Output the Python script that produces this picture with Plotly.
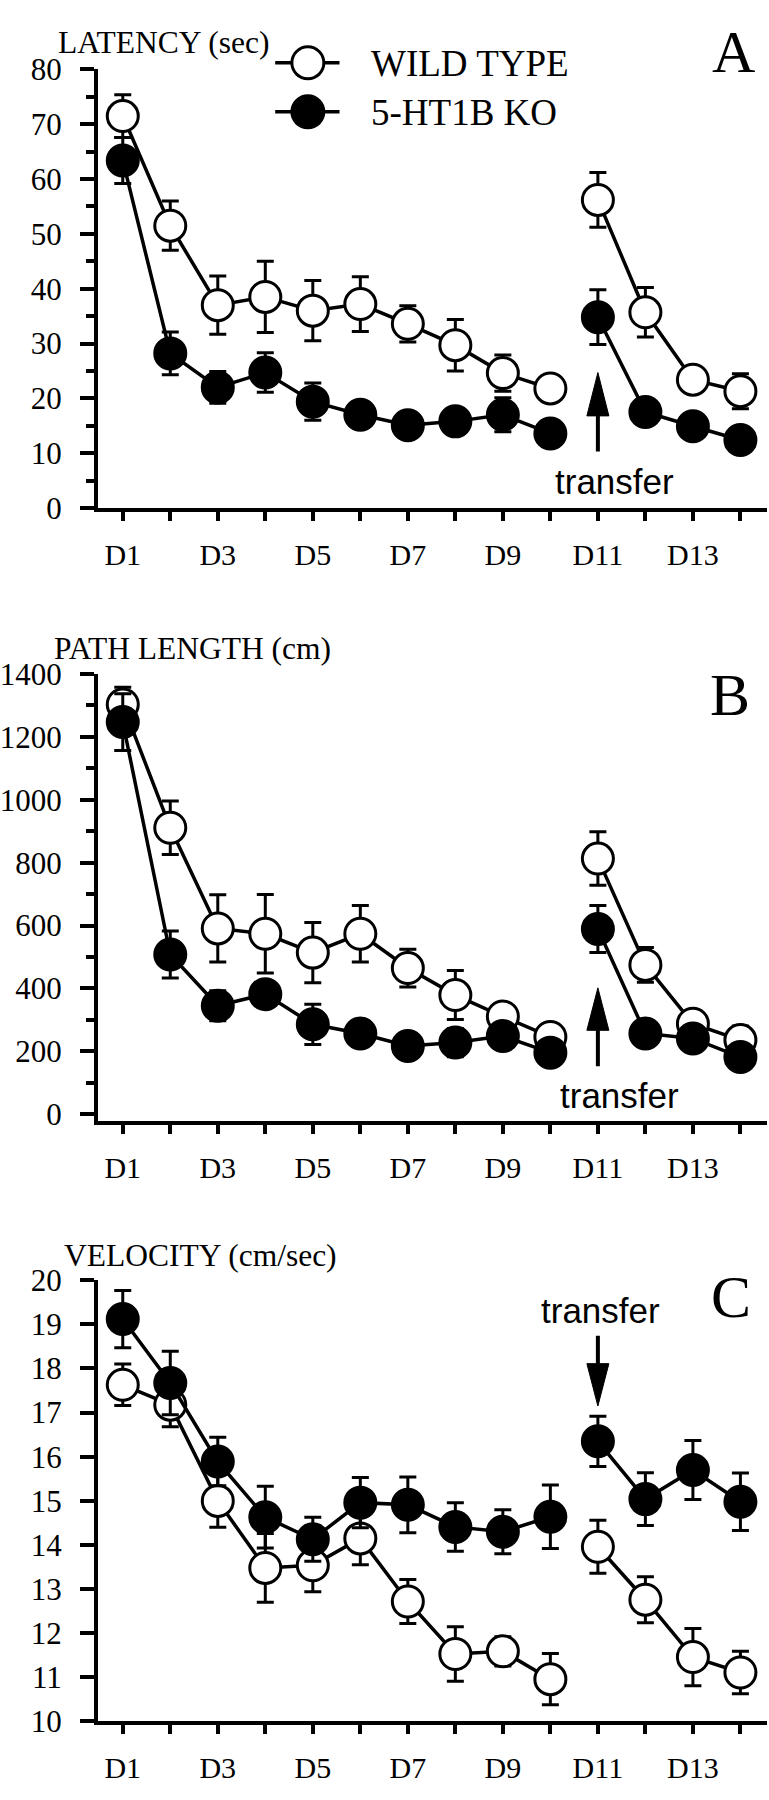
import plotly.graph_objects as go

# ---------------- data ----------------
days = list(range(1, 15))
day_ticktext = ["D1", "", "D3", "", "D5", "", "D7", "", "D9", "", "D11", "", "D13", ""]

lat_wt = [71.5, 51.5, 37.0, 38.5, 36.0, 37.2, 33.6, 29.7, 24.6, 21.8, 56.2, 35.7, 23.4, 21.3]
lat_wt_se = [3.9, 4.5, 5.3, 6.5, 5.5, 5.0, 3.3, 4.7, 3.3, 1.5, 5.0, 4.5, 1.5, 3.2]
lat_ko = [63.4, 28.2, 22.0, 24.7, 19.4, 17.0, 15.1, 15.8, 17.0, 13.6, 34.8, 17.5, 14.9, 12.4]
lat_ko_se = [4.2, 3.9, 2.9, 3.6, 3.4, 1.0, 1.0, 1.0, 3.1, 1.0, 5.0, 1.0, 1.0, 1.0]

path_wt = [1303, 911, 591, 574, 514, 574, 465, 379, 311, 246, 813, 475, 288, 236]
path_wt_se = [55, 85, 107, 125, 96, 90, 60, 78, 25, 25, 85, 55, 20, 45]
path_ko = [1247, 508, 345, 382, 286, 257, 217, 228, 249, 196, 589, 257, 241, 182]
path_ko_se = [90, 75, 48, 40, 64, 20, 20, 45, 20, 15, 75, 15, 15, 15]

vel_wt = [17.63, 17.18, 15.0, 13.48, 13.54, 14.15, 12.72, 11.53, 11.59, 10.96, 13.96, 12.76, 11.46, 11.11]
vel_wt_se = [0.47, 0.5, 0.6, 0.78, 0.6, 0.6, 0.5, 0.62, 0.33, 0.58, 0.6, 0.52, 0.65, 0.48]
vel_ko = [19.12, 17.67, 15.89, 14.63, 14.13, 14.96, 14.91, 14.41, 14.30, 14.64, 16.35, 15.04, 15.70, 14.98]
vel_ko_se = [0.65, 0.72, 0.55, 0.7, 0.5, 0.57, 0.63, 0.55, 0.5, 0.72, 0.57, 0.6, 0.67, 0.65]

series_names = ["WILD TYPE", "5-HT1B KO"]
panel_titles = ["LATENCY (sec)", "PATH LENGTH (cm)", "VELOCITY (cm/sec)"]
panel_letters = ["A", "B", "C"]
transfer_day = 11
break_after_day = 10

# ---------------- layout constants ----------------
W, H = 769, 1800
SERIF = "Liberation Serif, Times New Roman, serif"
SANS = "Liberation Sans, Arial, sans-serif"

def fy(px):
    return 1 - px / H

def fx(px):
    return px / W

x_domain = [fx(91), fx(767)]
panels = [
    dict(top=53.5, bot=500.7, rng=[0, 80], dtick=10, minor=5, data=(lat_wt, lat_wt_se, lat_ko, lat_ko_se)),
    dict(top=670.0, bot=1126.1, rng=[-22, 1400], dtick=200, minor=100, data=(path_wt, path_wt_se, path_ko, path_ko_se)),
    dict(top=1288.3, bot=1738.3, rng=[10, 20], dtick=1, minor=None, data=(vel_wt, vel_wt_se, vel_ko, vel_ko_se)),
]

def split(vals):
    # insert a gap between the training block and the transfer block
    xs, ys = [], []
    for d, v in zip(days, vals):
        xs.append(d)
        ys.append(v)
        if d == break_after_day:
            xs.append(None)
            ys.append(None)
    return xs, ys

fig = go.Figure()
MS = 31
for i, p in enumerate(panels):
    xa = "x" if i == 0 else f"x{i+1}"
    ya = "y" if i == 0 else f"y{i+1}"
    wt, wt_se, ko, ko_se = p["data"]
    for name, vals, se, fill in [(series_names[0], wt, wt_se, "white"), (series_names[1], ko, ko_se, "black")]:
        xs, ys = split(vals)
        _, es = split(se)
        fig.add_trace(go.Scatter(
            x=xs, y=ys, xaxis=xa, yaxis=ya, mode="lines+markers", name=name,
            showlegend=False, connectgaps=False, cliponaxis=False,
            line=dict(color="black", width=3.5),
            marker=dict(size=MS, color=fill, line=dict(color="black", width=3)),
            error_y=dict(type="data", array=es, visible=True, color="black", thickness=3, width=8.5),
        ))

layout = dict(
    width=W, height=H, margin=dict(l=0, r=0, t=0, b=0),
    paper_bgcolor="white", plot_bgcolor="white", showlegend=False,
    font=dict(family=SERIF, size=30, color="black"),
)
for i, p in enumerate(panels):
    xk = "xaxis" if i == 0 else f"xaxis{i+1}"
    yk = "yaxis" if i == 0 else f"yaxis{i+1}"
    anchor_y = "y" if i == 0 else f"y{i+1}"
    anchor_x = "x" if i == 0 else f"x{i+1}"
    layout[xk] = dict(
        domain=x_domain, anchor=anchor_y, range=[0.48, 14.56],
        tickmode="array", tickvals=days, ticktext=day_ticktext,
        ticks="outside", ticklen=9, tickwidth=4, tickcolor="black",
        showline=True, linecolor="black", linewidth=4, showgrid=False, zeroline=False,
        tickfont=dict(family=SERIF, size=30, color="black"), ticklabelstandoff=8,
    )
    yax = dict(
        domain=[fy(p["bot"]), fy(p["top"])], anchor=anchor_x, range=p["rng"],
        tick0=0 if i < 2 else 10, dtick=p["dtick"],
        ticks="outside", ticklen=14, tickwidth=4, tickcolor="black",
        showline=True, linecolor="black", linewidth=4, showgrid=False, zeroline=False,
        tickfont=dict(family=SERIF, size=31, color="black"), ticklabelstandoff=12,
    )
    if p["minor"]:
        yax["minor"] = dict(dtick=p["minor"], ticks="outside", ticklen=8, tickwidth=4,
                            tickcolor="black", showgrid=False)
    layout[yk] = yax

annotations = []
shapes = []
# panel titles
title_pos = [(48, 26), (44, 644), (55, 1263)]
for t, (x, y) in zip(panel_titles, title_pos):
    annotations.append(dict(text=t, xref="paper", yref="paper", x=fx(x), y=fy(y),
                            xanchor="left", yanchor="middle", showarrow=False,
                            font=dict(family=SERIF, size=31.5, color="black")))
# panel letters
letter_pos = [(733, 36), (730, 691), (731, 1305)]
for t, (x, y) in zip(panel_letters, letter_pos):
    annotations.append(dict(text=t, xref="paper", yref="paper", x=fx(x), y=fy(y),
                            xanchor="center", yanchor="middle", showarrow=False,
                            font=dict(family=SERIF, size=60, color="black")))
# legend (drawn manually)
leg_rows = [(46.7, "white"), (96.7, "black")]
for (yy, fill), name in zip(leg_rows, series_names):
    shapes.append(dict(type="line", xref="paper", yref="paper", x0=fx(270), x1=fx(335),
                       y0=fy(yy), y1=fy(yy), line=dict(color="black", width=3.5)))
    shapes.append(dict(type="circle", xref="paper", yref="paper", xsizemode="pixel", ysizemode="pixel",
                       xanchor=fx(303), yanchor=fy(yy), x0=-16, x1=16, y0=-16, y1=16,
                       fillcolor=fill, line=dict(color="black", width=3)))
    annotations.append(dict(text=name, xref="paper", yref="paper", x=fx(365), y=fy(yy + 1),
                            xanchor="left", yanchor="middle", showarrow=False,
                            font=dict(family=SERIF, size=37, color="black")))

# transfer labels and arrows
transfer_text_pos = [(613, 474), (618, 1100), (599, 1319)]
for (x, y) in transfer_text_pos:
    annotations.append(dict(text="transfer", xref="paper", yref="paper", x=fx(x), y=fy(y),
                            xanchor="center", yanchor="middle", showarrow=False,
                            font=dict(family=SANS, size=35, color="black")))
# arrows: (tip, head base, tail) in data units of each panel
arrow_specs = [(24.7, 16.8, 10.3), (402, 267, 153), (17.15, 18.11, 18.74)]
for i, (tip, base, tail) in enumerate(arrow_specs):
    xr = "x" if i == 0 else f"x{i+1}"
    yr = "y" if i == 0 else f"y{i+1}"
    shapes.append(dict(type="line", xref=xr, yref=yr, x0=transfer_day, x1=transfer_day,
                       y0=tail, y1=base, line=dict(color="black", width=4)))
    shapes.append(dict(type="path", xref=xr, yref=yr, xsizemode="pixel", xanchor=transfer_day,
                       path=f"M -11,{base} L 11,{base} L 0,{tip} Z",
                       fillcolor="black", line=dict(color="black", width=1)))

layout["annotations"] = annotations
layout["shapes"] = shapes
fig.update_layout(**layout)
fig.write_html(
    "out.html",
    config={"displayModeBar": False},
    post_script="document.body.style.margin='0';document.body.style.padding='0';"
                "document.documentElement.style.overflow='hidden';document.body.style.overflow='hidden';",
)
